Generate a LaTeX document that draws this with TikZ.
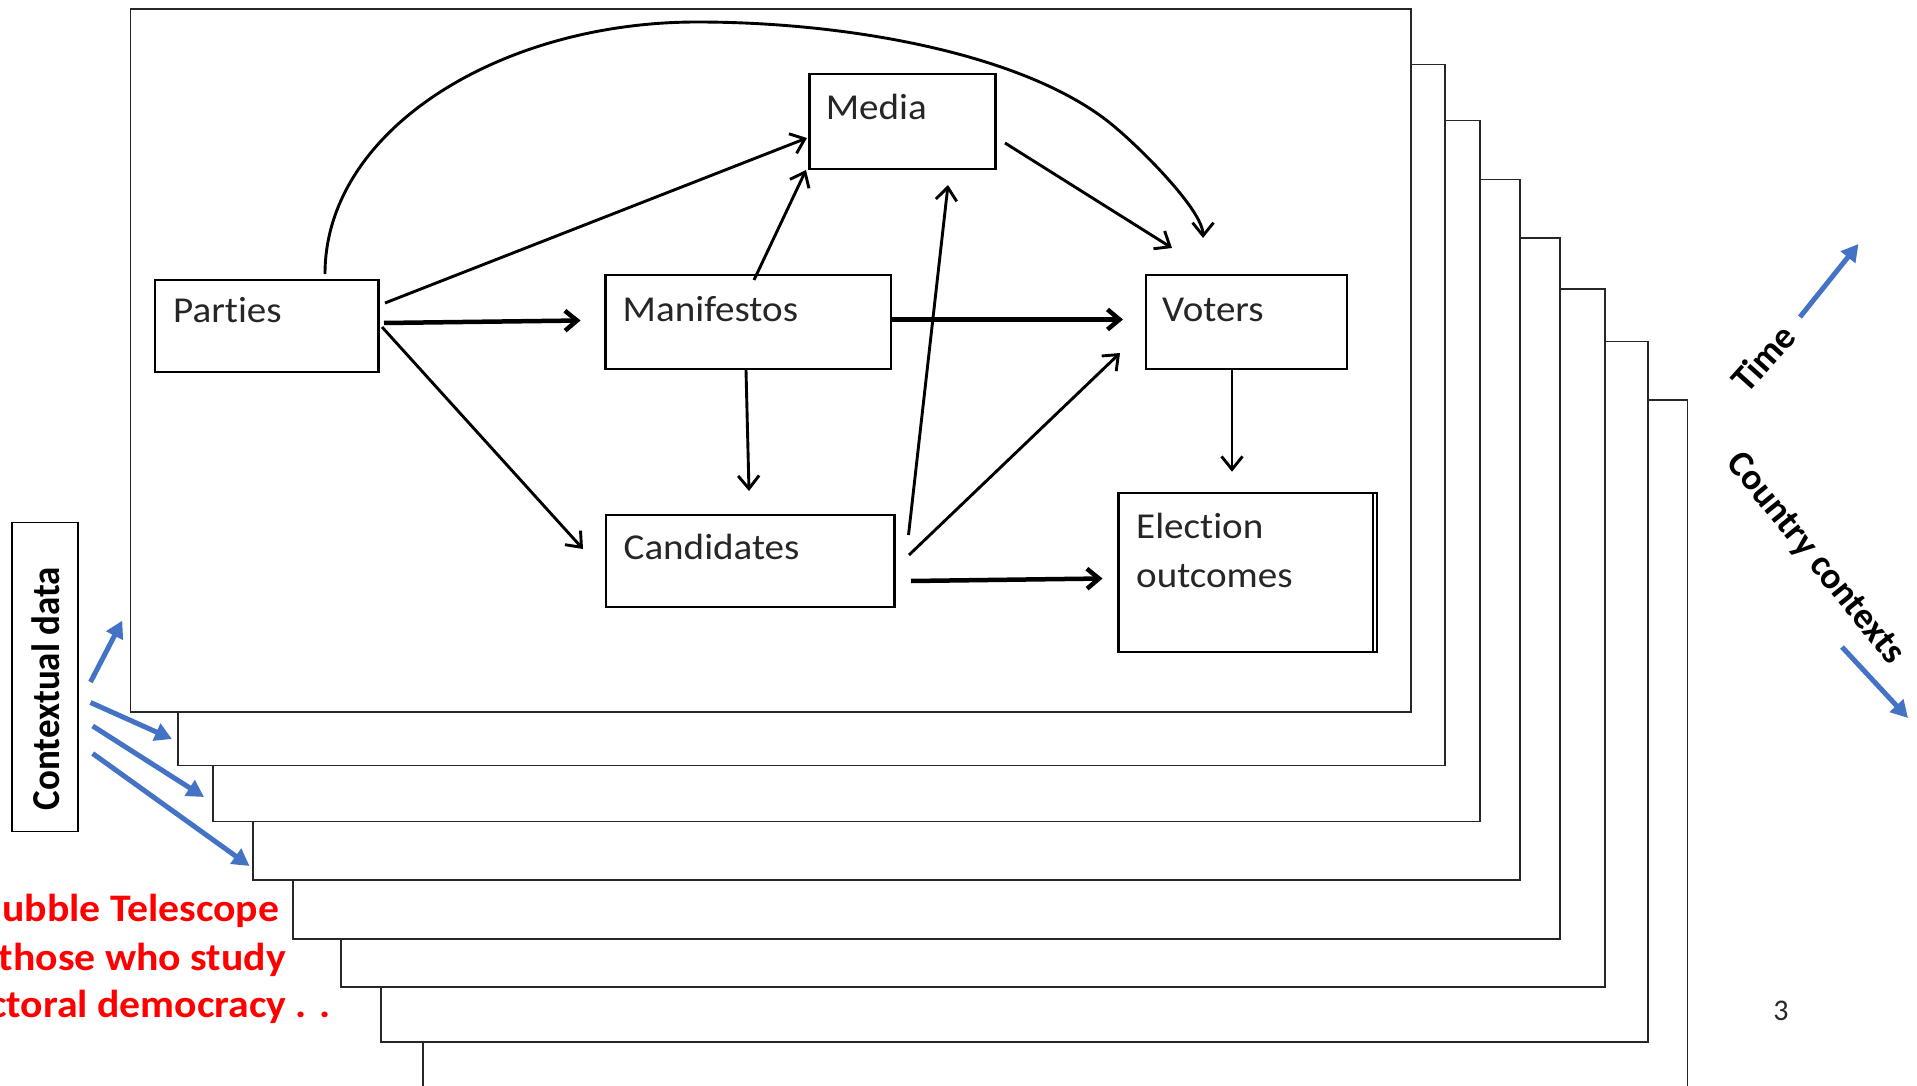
\documentclass[tikz,border=0pt]{standalone}
\usepackage{fontspec}
\setmainfont{Carlito}[Ligatures=NoCommon]
\usetikzlibrary{arrows.meta,calc}
\definecolor{offblue}{HTML}{4472C4}
\definecolor{txtgray}{HTML}{262626}
\begin{document}
\begin{tikzpicture}[x=1pt,y=-1pt,
  page/.style={draw=txtgray, fill=white, line width=1.8pt, inner sep=0pt, outer sep=0pt, anchor=north west},
  box/.style={draw=black, line width=2.2pt, inner sep=0pt, outer sep=0pt, anchor=north west},
  lbl/.style={anchor=base west, inner sep=0pt, xscale=1.07, font=\fontsize{36.5}{44}\selectfont, text=txtgray},
  bold lbl/.style={inner sep=0pt, font=\bfseries\fontsize{37}{44}\selectfont, text=black},
  redt/.style={anchor=base east, inner sep=0pt, xscale=1.07, font=\bfseries\fontsize{39}{48}\selectfont, text=red},
  arr/.style={draw=black, line width=2.9pt, -{Straight Barb[length=13pt,width=21pt]}},
  tarr/.style={draw=black, line width=4.5pt, -{Straight Barb[length=12pt,width=20pt]}},
  barr/.style={draw=offblue, line width=5pt, -{Triangle[length=17pt,width=18pt]}}
]
\useasboundingbox (0,0) rectangle (1917,1086);
\fill[white] (0,0) rectangle (1917,1086);

% stacked pages (back to front)
\node[page, minimum width=1264.5pt, minimum height=720pt] (r8) at (423,400.2) {};
\node[page, minimum width=1266.8pt, minimum height=700.8pt] (r7) at (381,341.5) {};
\node[page, minimum width=1264pt, minimum height=698pt] (r6) at (341,288.8) {};
\node[page, minimum width=1266.8pt, minimum height=701.3pt] (r5) at (293,237.7) {};
\node[page, minimum width=1266.7pt, minimum height=700.5pt] (r4) at (253,179.5) {};
\node[page, minimum width=1266.7pt, minimum height=701pt] (r3) at (213,120.5) {};
\node[page, minimum width=1266.7pt, minimum height=701pt] (r2) at (178.3,64.5) {};
\node[page, minimum width=1280.3pt, minimum height=702.6pt] (r1) at (130.5,9) {};

% graph boxes
\node[box, minimum width=223.5pt, minimum height=91.7pt] (parties) at (155,280) {};
\node[box, minimum width=186pt, minimum height=94.7pt] (media) at (809.5,74.3) {};
\node[box, minimum width=285.5pt, minimum height=94.3pt] (manifestos) at (605.5,275) {};
\node[box, minimum width=201.3pt, minimum height=94.3pt] (voters) at (1145.7,275) {};
\node[box, minimum width=288.5pt, minimum height=92pt] (candidates) at (606,515) {};
\node[box, minimum width=258.2pt, minimum height=159pt] (election) at (1118.5,492.7) {};
\draw[line width=2pt] ([xshift=-3.5pt]election.north east) -- ([xshift=-3.5pt]election.south east);

\node[lbl] (partiesT) at (173,322.7) {Parties};
\node[lbl] (mediaT) at (825.6,120) {Media};
\node[lbl] (manifestosT) at (622.5,321) {Manifestos};
\node[lbl] (votersT) at (1162,321) {Voters};
\node[lbl] (candidatesT) at (623.5,559) {Candidates};
\node[lbl] (electionT) at (1136,538.3) {Election};
\node[lbl] (outcomesT) at (1136,587.3) {outcomes};

% connectors
\draw[arr] ([shift={(170,-6)}]parties.north west) .. controls (325,130) and (500,22) .. (697,22)
  .. controls (850,22) and (1024.2,54.25) .. (1110,123)
  .. controls (1138,145.4) and (1203,210) .. ([shift={(57.3,-37)}]voters.north west);
\draw[arr] ([shift={(6.5,23)}]parties.north east) -- ([shift={(-2.5,63.7)}]media.north west);
\draw[tarr] ([shift={(5.5,43)}]parties.north east) -- ([shift={(-25,45.5)}]manifestos.north west);
\draw[arr] ([shift={(3.5,47)}]parties.north east) -- ([shift={(-23,34)}]candidates.north west);
\draw[arr] ([shift={(148.5,5)}]manifestos.north west) -- ([shift={(-3.5,95.7)}]media.north west);
\draw[arr] ([shift={(14,20)}]candidates.north east) -- ([shift={(138.5,16)}]media.south west);
\draw[arr] ([shift={(9.5,68.7)}]media.north east) -- ([shift={(26.3,-27)}]voters.north west);
\draw[tarr] ([shift={(1,44.5)}]manifestos.north east) -- ([shift={(-22.7,44.5)}]voters.north west);
\draw[arr] ([shift={(14.5,40)}]candidates.north east) -- ([shift={(-25.7,78)}]voters.north west);
\draw[arr] ([shift={(140.5,0.7)}]manifestos.south west) -- ([shift={(143,-24)}]candidates.north west);
\draw[arr] ([shift={(86.3,0.7)}]voters.south west) -- ([shift={(113.5,-21)}]election.north west);
\draw[tarr] ([shift={(16.5,66)}]candidates.north east) -- ([shift={(-16,85.8)}]election.north west);

% contextual data
\node[draw=black, line width=1.8pt, inner sep=0pt, outer sep=0pt, anchor=north west,
  minimum width=66.3pt, minimum height=309.1pt] (ctx) at (12,522.4) {};
\node[bold lbl, rotate=90, yscale=1.07] (ctxT) at (46,688.5) {Contextual data};
\draw[barr] ([shift={(12.2,159.6)}]ctx.north east) -- ([shift={(-8.2,-91)}]r1.south west);
\draw[barr] ([shift={(12.2,180.1)}]ctx.north east) -- ([shift={(-6.3,-26.5)}]r2.south west);
\draw[barr] ([shift={(14.4,203.6)}]ctx.north east) -- ([shift={(-9,-24.5)}]r3.south west);
\draw[barr] ([shift={(14.4,231.1)}]ctx.north east) -- ([shift={(-3.5,-14)}]r4.south west);

% red text
\node[redt] (red1) at (279.5,921.7) {ubble Telescope};
\node[redt] (red2) at (286,970) {those who study};
\node[redt] (red3) at (331,1017) {ctoral democracy . .};

% right labels
\node[bold lbl, rotate=48] (timeT) at (1763,358) {Time};
\coordinate (timeA) at (1800,317);
\coordinate (timeB) at (1858.5,244);
\draw[barr] (timeA) -- (timeB);
\node[bold lbl, rotate=-51] (countryT) at (1815,559) {Country contexts};
\coordinate (ctyA) at (1842,647);
\coordinate (ctyB) at (1908,718);
\draw[barr] (ctyA) -- (ctyB);

\node[inner sep=0pt, font=\fontsize{30}{36}\selectfont, text=txtgray] (pnum) at (1781,1011) {3};
\end{tikzpicture}
\end{document}
